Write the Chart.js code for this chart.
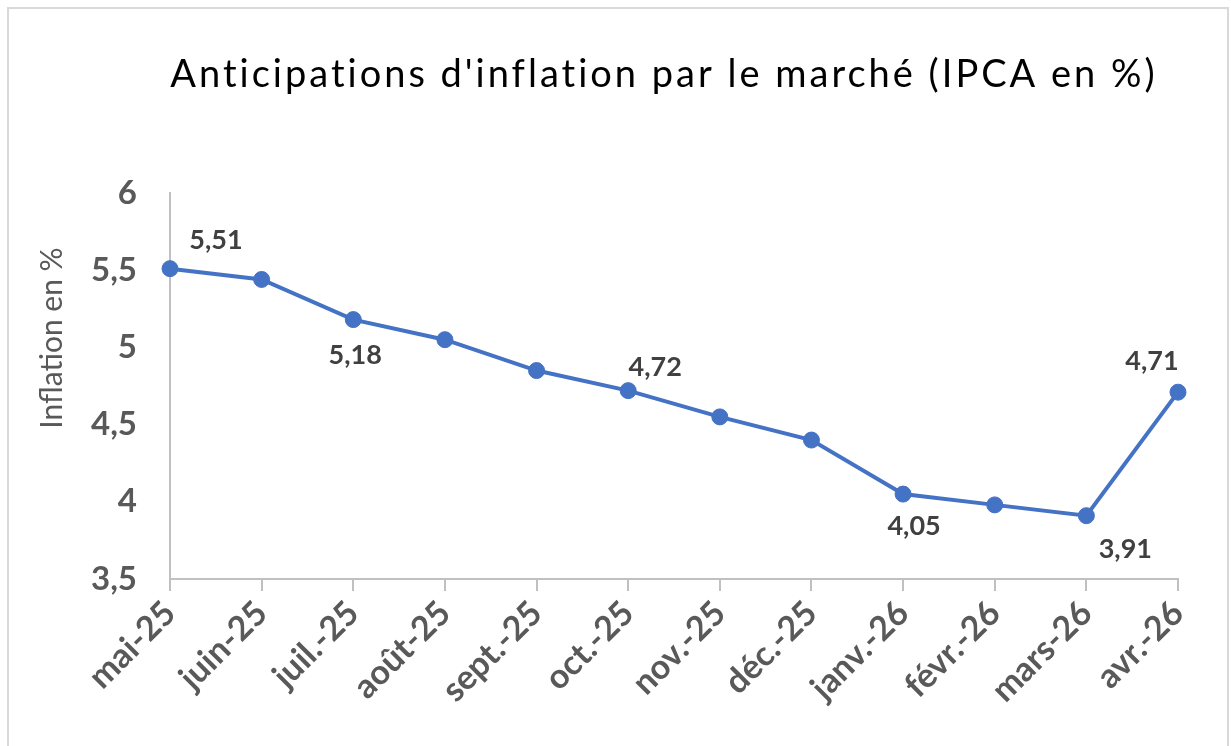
<!DOCTYPE html>
<html>
<head>
<meta charset="utf-8">
<script src="https://cdn.jsdelivr.net/npm/chart.js@4.4.1/dist/chart.umd.min.js"></script>
<style>
  html, body { margin: 0; padding: 0; background: #fff; overflow: hidden; }
  canvas { display: block; }
</style>
</head>
<body>
<canvas id="c" width="1231" height="746"></canvas>
<script>
// ---- Data ----
const categories = ['mai-25', 'juin-25', 'juil.-25', 'août-25', 'sept.-25', 'oct.-25',
                    'nov.-25', 'déc.-25', 'janv.-26', 'févr.-26', 'mars-26', 'avr.-26'];
const inflation = [5.51, 5.44, 5.18, 5.05, 4.85, 4.72, 4.55, 4.40, 4.05, 3.98, 3.91, 4.71];
const labelledPoints = [0, 2, 5, 8, 10, 11];
const yTicks = [3.5, 4, 4.5, 5, 5.5, 6];
const chartTitle = "Anticipations d'inflation par le marché (IPCA en %)";
const yTitle = 'Inflation en %';

const fr = v => String(v).replace('.', ',');

// label offsets (style) relative to point, per labelled index
const labelOffsets = { 0: [46, -28], 2: [2, 36], 5: [27, -23], 8: [11, 32], 10: [39, 34], 11: [-26, -31] };

const framePlugin = {
  id: 'frame',
  beforeDraw(chart) {
    const ctx = chart.ctx;
    ctx.save();
    ctx.fillStyle = '#ffffff';
    ctx.fillRect(0, 0, chart.width, chart.height);
    ctx.strokeStyle = '#d9d9d9';
    ctx.lineWidth = 2;
    ctx.strokeRect(8, 8, 1220, 760);
    ctx.restore();
  }
};

const textPlugin = {
  id: 'texts',
  afterDraw(chart) {
    const ctx = chart.ctx;
    ctx.save();
    ctx.fillStyle = '#000000';
    ctx.font = '38px Lato';
    if ('letterSpacing' in ctx) ctx.letterSpacing = '3px';
    ctx.textAlign = 'center';
    ctx.textBaseline = 'alphabetic';
    ctx.fillText(chartTitle, 664, 87);
    if ('letterSpacing' in ctx) ctx.letterSpacing = '0px';

    ctx.translate(52, 338);
    ctx.rotate(-Math.PI / 2);
    ctx.fillStyle = '#595959';
    ctx.font = '30px Lato';
    ctx.textBaseline = 'middle';
    ctx.fillText(yTitle, 0, 0);
    ctx.restore();
  }
};

const labelPlugin = {
  id: 'pointLabels',
  afterDatasetsDraw(chart) {
    const ctx = chart.ctx;
    const meta = chart.getDatasetMeta(0);
    ctx.save();
    ctx.fillStyle = '#404040';
    ctx.font = 'bold 27px Lato';
    ctx.textAlign = 'center';
    ctx.textBaseline = 'middle';
    labelledPoints.forEach(i => {
      const pt = meta.data[i];
      const off = labelOffsets[i];
      ctx.fillText(fr(inflation[i]), pt.x + off[0], pt.y + off[1]);
    });
    ctx.restore();
  }
};

new Chart(document.getElementById('c'), {
  type: 'line',
  data: {
    labels: categories,
    datasets: [{
      data: inflation,
      borderColor: '#4472C4',
      backgroundColor: '#4472C4',
      borderWidth: 4,
      pointRadius: 8,
      pointHoverRadius: 8,
      pointBorderWidth: 1,
      tension: 0
    }]
  },
  options: {
    responsive: false,
    animation: false,
    devicePixelRatio: 1,
    layout: { padding: { left: 0, right: 53, top: 193, bottom: 0 } },
    plugins: { legend: { display: false }, title: { display: false }, tooltip: { enabled: false } },
    scales: {
      x: {
        offset: false,
        grid: { display: true, drawOnChartArea: false, drawTicks: true, tickLength: 12, color: '#c0c0c0', lineWidth: 2 },
        border: { display: true, color: '#c0c0c0', width: 2 },
        ticks: {
          autoSkip: false, maxRotation: 45, minRotation: 45, padding: 2,
          color: '#595959', font: { family: 'Lato', weight: 'bold', size: 34 }
        },
        afterFit(scale) { scale.height = 167; }
      },
      y: {
        min: 3.5, max: 6,
        afterBuildTicks(scale) { scale.ticks = yTicks.map(v => ({ value: v })); },
        grid: { display: false, drawTicks: false },
        border: { display: true, color: '#c0c0c0', width: 2 },
        ticks: {
          padding: 33, color: '#595959',
          font: { family: 'Lato', weight: 'bold', size: 33 },
          callback: v => fr(v)
        },
        afterFit(scale) { scale.width = 170; }
      }
    }
  },
  plugins: [framePlugin, textPlugin, labelPlugin]
});
</script>
</body>
</html>
